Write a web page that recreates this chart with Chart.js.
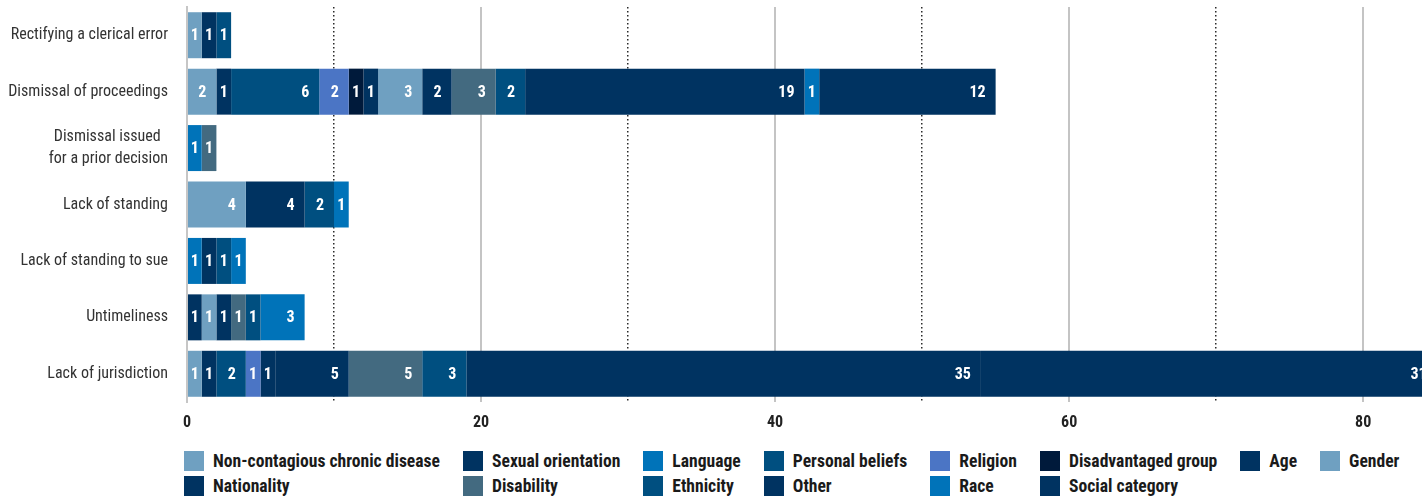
<!DOCTYPE html>
<html>
<head>
<meta charset="utf-8">
<title>Inadmissibility grounds by type of discrimination</title>
<script src="https://cdn.jsdelivr.net/npm/chart.js@4.4.1/dist/chart.umd.min.js"></script>
<style>
  html, body { margin: 0; padding: 0; background: #fff; overflow: hidden; }
  #wrap { position: relative; width: 1422px; height: 440px; }
  #legend {
    display: grid;
    grid-template-columns: repeat(8, auto);
    justify-content: start;
    column-gap: 23px;
    row-gap: 5px;
    margin: 11px 0 0 184px;
    font: bold 17.6px "Roboto Condensed", sans-serif;
    color: #1a1a1a;
  }
  .legend-item { display: flex; align-items: center; height: 20px; white-space: nowrap; }
  .legend-box { width: 20px; height: 20px; margin-right: 9px; flex: none; }
</style>
</head>
<body>
<div id="wrap"><canvas id="chart"></canvas></div>
<div id="legend"></div>

<script>
/* Stacked horizontal bars: grounds of inadmissibility by discrimination type */

var FONT = '"Roboto Condensed", sans-serif';

var CATEGORIES = [
  'Rectifying a clerical error',
  'Dismissal of proceedings',
  ['Dismissal issued  ', 'for a prior decision'],
  'Lack of standing',
  'Lack of standing to sue',
  'Untimeliness',
  'Lack of jurisdiction'
];

var SERIES_NAMES = [
  'Non-contagious chronic disease', 'Sexual orientation', 'Language', 'Personal beliefs',
  'Religion', 'Disadvantaged group', 'Age', 'Gender',
  'Nationality', 'Disability', 'Ethnicity', 'Other', 'Race', 'Social category'
];

var SERIES_COLORS = [
  '#6fa0c1', '#003361', '#0073b9', '#004f80',
  '#4b75c5', '#001a3b', '#003361', '#6fa0c1',
  '#003361', '#436a80', '#004f80', '#003361', '#0073b9', '#003361'
];

// one array per series, in category order
var NON_CONTAGIOUS = [1, 2, 0, 4, 0, 0, 1];
var SEXUAL_ORIENTATION = [1, 1, 0, 4, 0, 1, 1];
var LANGUAGE = [0, 0, 1, 0, 1, 0, 0];
var PERSONAL_BELIEFS = [1, 6, 0, 2, 0, 0, 2];
var RELIGION = [0, 2, 0, 0, 0, 0, 1];
var DISADVANTAGED = [0, 1, 0, 0, 0, 0, 0];
var AGE = [0, 1, 0, 0, 1, 0, 1];
var GENDER = [0, 3, 0, 0, 0, 1, 0];
var NATIONALITY = [0, 2, 0, 0, 0, 1, 5];
var DISABILITY = [0, 3, 1, 0, 0, 1, 5];
var ETHNICITY = [0, 2, 0, 0, 1, 1, 3];
var OTHER = [0, 19, 0, 0, 0, 0, 35];
var RACE = [0, 1, 0, 1, 1, 3, 0];
var SOCIAL_CATEGORY = [0, 12, 0, 0, 0, 0, 31];

var SERIES_VALUES = [
  NON_CONTAGIOUS, SEXUAL_ORIENTATION, LANGUAGE, PERSONAL_BELIEFS,
  RELIGION, DISADVANTAGED, AGE, GENDER,
  NATIONALITY, DISABILITY, ETHNICITY, OTHER, RACE, SOCIAL_CATEGORY
];

var X_MAX = 84;
var X_STEP = 10;

function buildDatasets() {
  var out = [];
  for (var i = 0; i < SERIES_NAMES.length; i += 1) {
    out.push({
      label: SERIES_NAMES[i],
      data: SERIES_VALUES[i],
      backgroundColor: SERIES_COLORS[i],
      borderWidth: 0,
      barPercentage: 0.815,
      categoryPercentage: 1
    });
  }
  return out;
}

// white value labels, right-aligned inside each segment (centred when narrow)
var segmentLabels = {
  id: 'segmentLabels',
  afterDatasetsDraw: function (chart) {
    var ctx = chart.ctx;
    ctx.save();
    ctx.font = 'bold 16px ' + FONT;
    ctx.fillStyle = '#ffffff';
    ctx.textAlign = 'right';
    ctx.textBaseline = 'middle';
    chart.data.datasets.forEach(function (ds, di) {
      chart.getDatasetMeta(di).data.forEach(function (bar, i) {
        var v = ds.data[i];
        if (!v) {
          return;
        }
        var txt = String(v);
        var w = bar.x - bar.base;
        var tw = ctx.measureText(txt).width;
        var pad = Math.min(10, (w - tw) / 2);
        ctx.fillText(txt, bar.x - pad, bar.y + 1);
      });
    });
    ctx.restore();
  }
};

function isMajor(value) {
  return value % 20 === 0;
}

function buildLegend() {
  var box = document.getElementById('legend');
  for (var i = 0; i < SERIES_NAMES.length; i += 1) {
    var item = document.createElement('div');
    item.className = 'legend-item';
    var sw = document.createElement('span');
    sw.className = 'legend-box';
    sw.style.background = SERIES_COLORS[i];
    var txt = document.createElement('span');
    txt.textContent = SERIES_NAMES[i];
    item.appendChild(sw);
    item.appendChild(txt);
    box.appendChild(item);
  }
}

Chart.defaults.font.family = FONT;
Chart.defaults.color = '#333';

new Chart(document.getElementById('chart').getContext('2d'), {
  type: 'bar',
  data: { labels: CATEGORIES, datasets: buildDatasets() },
  plugins: [segmentLabels],
  options: {
    indexAxis: 'y',
    responsive: true,
    maintainAspectRatio: false,
    animation: false,
    layout: { padding: { top: 7, left: 0, right: 0, bottom: 0 } },
    plugins: {
      legend: { display: false },
      tooltip: { enabled: false }
    },
    scales: {
      x: {
        stacked: true,
        min: 0,
        max: X_MAX,
        afterFit: function (scale) { scale.height = 38; },
        ticks: {
          stepSize: X_STEP,
          includeBounds: false,
          maxRotation: 0,
          autoSkip: false,
          padding: 11,
          color: '#222',
          font: { size: 16, weight: 'bold' },
          callback: function (value) {
            return isMajor(value) ? String(value) : '';
          }
        },
        grid: {
          drawTicks: false,
          color: function (c) {
            if (!c.tick) { return '#c4c4c4'; }
            return isMajor(c.tick.value) ? '#c4c4c4' : '#2a2a2a';
          },
          lineWidth: function (c) {
            if (!c.tick) { return 2; }
            return isMajor(c.tick.value) ? 2 : 1.5;
          }
        },
        border: {
          display: false,
          dash: function (c) {
            if (!c.tick || isMajor(c.tick.value)) { return []; }
            return [1.5, 2.5];
          }
        }
      },
      y: {
        stacked: true,
        afterFit: function (scale) {
          scale.width = 187;
          scale.paddingTop = 0;
          scale.paddingBottom = 0;
        },
        ticks: {
          padding: 19,
          color: '#333',
          font: { size: 16, lineHeight: 1.4 }
        },
        grid: { display: false, drawTicks: false },
        border: { display: true, color: '#c6c6c6', width: 2 }
      }
    }
  }
});

buildLegend();
</script>
</body>
</html>
